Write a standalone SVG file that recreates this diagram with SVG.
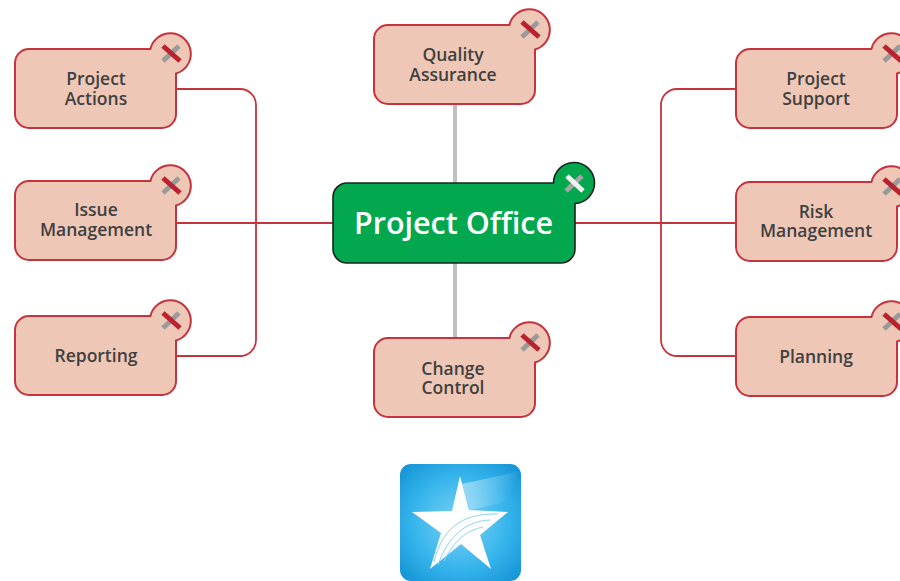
<svg xmlns="http://www.w3.org/2000/svg" width="900" height="581" viewBox="0 0 900 581">
<defs>
<style>
.conn{fill:none;stroke:#c5333e;stroke-width:1.8}
.gray{fill:none;stroke:#c0c0c0;stroke-width:4}
.shape{fill:#efc7b6;stroke:#c5333e;stroke-width:2}
.lbl{font-family:"Open Sans","Noto Sans",sans-serif;font-size:17.5px;font-weight:600;fill:#404040;text-anchor:middle}
.title{font-family:"Open Sans","Noto Sans",sans-serif;font-size:30.5px;font-weight:600;fill:#fff;text-anchor:middle}
.xr{stroke:#b8232e;stroke-width:5}
.xg{stroke:#9a9a9a;stroke-width:5}
</style>
<path id="shape" class="shape" d="M14 0H135.400A20.500 20.500 0 1 1 161 24.500V65A14 14 0 0 1 147 79H14A14 14 0 0 1 0 65V14A14 14 0 0 1 14 0Z"/>
<g id="x">
<line class="xg" x1="148" y1="12" x2="164" y2="-3"/>
<line class="xr" x1="148" y1="-3" x2="165" y2="12"/>
</g>
<radialGradient id="blue" cx="0.5" cy="0.5" r="0.72">
<stop offset="0" stop-color="#7fd4f5"/><stop offset="0.55" stop-color="#36b4ec"/><stop offset="1" stop-color="#0f8fd2"/>
</radialGradient>
<linearGradient id="beam" x1="0" y1="0" x2="1" y2="0.3">
<stop offset="0" stop-color="#fff" stop-opacity="0.5"/><stop offset="1" stop-color="#fff" stop-opacity="0"/>
</linearGradient>
</defs>
<g id="connectors">
<path class="conn" d="M176 89H240A16 16 0 0 1 256 105V340A16 16 0 0 1 240 356H176"/>
<path class="conn" d="M176 223H333"/>
<path class="conn" d="M736 89H677A16 16 0 0 0 661 105V340A16 16 0 0 0 677 356H736"/>
<path class="conn" d="M575 223H736"/>
<path class="gray" d="M455 105V183M455 263V338"/>
</g>
<g id="project-actions" transform="translate(15 49)"><use href="#shape"/><use href="#x"/><text class="lbl"><tspan x="81" y="35.500">Project</tspan><tspan x="81" y="55.500">Actions</tspan></text></g>
<g id="issue-management" transform="translate(15 181)"><use href="#shape"/><use href="#x"/><text class="lbl"><tspan x="81" y="35">Issue</tspan><tspan x="81" y="54.500">Management</tspan></text></g>
<g id="reporting" transform="translate(15 316)"><use href="#shape"/><use href="#x"/><text class="lbl" x="81" y="46">Reporting</text></g>
<g id="quality-assurance" transform="translate(374 25)"><use href="#shape"/><use href="#x"/><text class="lbl"><tspan x="79" y="36">Quality</tspan><tspan x="79" y="55.500">Assurance</tspan></text></g>
<g id="change-control" transform="translate(374 338)"><use href="#shape"/><use href="#x"/><text class="lbl"><tspan x="79" y="36.500">Change</tspan><tspan x="79" y="56">Control</tspan></text></g>
<g id="project-support" transform="translate(736 49)"><use href="#shape"/><use href="#x"/><text class="lbl"><tspan x="80" y="35.500">Project</tspan><tspan x="80" y="55.500">Support</tspan></text></g>
<g id="risk-management" transform="translate(736 182)"><use href="#shape"/><use href="#x"/><text class="lbl"><tspan x="80" y="35.500">Risk</tspan><tspan x="80" y="55">Management</tspan></text></g>
<g id="planning" transform="translate(736 317)"><use href="#shape"/><use href="#x"/><text class="lbl" x="80" y="46">Planning</text></g>
<g id="project-office">
<path d="M347 183H553.500A20.500 20.500 0 1 1 575 203.500V249A14 14 0 0 1 561 263H347A14 14 0 0 1 333 249V197A14 14 0 0 1 347 183Z" fill="#03a84e" stroke="#16241c" stroke-width="1.6"/>
<line x1="566" y1="191" x2="582" y2="176" stroke="#a5a5a5" stroke-width="5"/>
<line x1="567" y1="176" x2="583" y2="191" stroke="#f2f2f2" stroke-width="5"/>
<text class="title" x="453.500" y="234">Project Office</text>
</g>
<g id="logo">
<rect x="400" y="464" width="121" height="117" rx="11" fill="url(#blue)"/>
<polygon points="462,484 517,472 517,500 470,510" fill="url(#beam)"/>
<polygon points="460,476 469,510 508,512 480,535 491,569 461,544 430,569 441,533 412,512 452,511" fill="#fff"/>
<path d="M434 562C442 530 460 513 498 514M438 565C448 536 466 521 490 520M444 561C454 540 468 530 483 527" fill="none" stroke="#8fd2ee" stroke-width="1"/>
</g>
</svg>
